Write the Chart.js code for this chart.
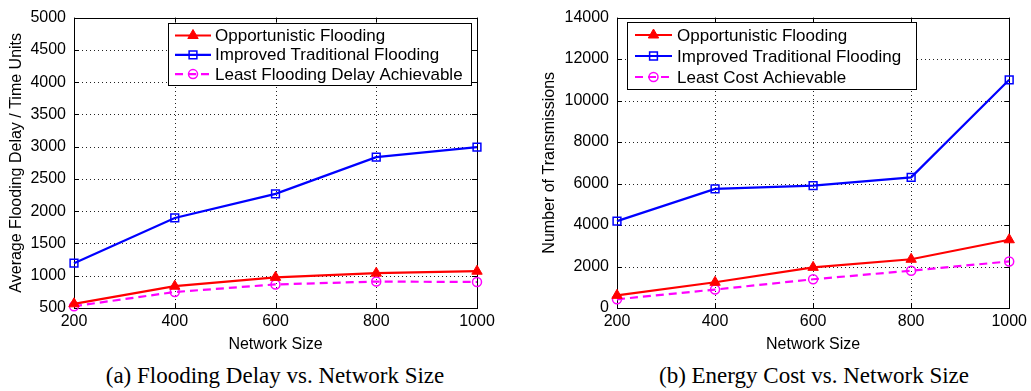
<!DOCTYPE html>
<html><head><meta charset="utf-8">
<script src="https://cdn.jsdelivr.net/npm/chart.js@4/dist/chart.umd.min.js"></script>
<style>
html,body{margin:0;padding:0;background:#fff;width:1031px;height:391px;overflow:hidden;position:relative}
.w{position:absolute;top:0}
.cap{position:absolute;top:364px;font-family:'Liberation Serif','Times New Roman',serif;font-size:23px;line-height:23px;white-space:nowrap;transform:translateX(-50%);color:#000}
</style></head><body>
<div class="w" style="left:0;width:520px;height:355px"><canvas id="c1" width="520" height="355"></canvas></div>
<div class="w" style="left:520px;width:511px;height:355px"><canvas id="c2" width="511" height="355"></canvas></div>
<div class="cap" style="left:275px">(a) Flooding Delay vs. Network Size</div>
<div class="cap" style="left:814px">(b) Energy Cost vs. Network Size</div>
<script>
// ---- data ----
const networkSizes = [200, 400, 600, 800, 1000];
const delayOpportunistic = [565, 838, 975, 1040, 1070];
const delayImproved = [1195, 1895, 2268, 2838, 2992];
const delayLeast = [528, 748, 865, 910, 903];
const costOpportunistic = [610, 1240, 1960, 2350, 3290];
const costImproved = [4190, 5740, 5900, 6296, 11000];
const costLeast = [420, 890, 1385, 1800, 2245];
const delayTicks = [500, 1000, 1500, 2000, 2500, 3000, 3500, 4000, 4500, 5000];
const costTicks = [0, 2000, 4000, 6000, 8000, 10000, 12000, 14000];
const labelsDelay = ['Opportunistic Flooding', 'Improved Traditional Flooding', 'Least Flooding Delay Achievable'];
const labelsCost = ['Opportunistic Flooding', 'Improved Traditional Flooding', 'Least Cost Achievable'];

const SANS = "'Liberation Sans', Arial, Helvetica, sans-serif";

function drawMarker(ctx, style, x, y, r, stroke, fill, lw) {
  ctx.save();
  ctx.setLineDash([]);
  ctx.lineWidth = lw; ctx.strokeStyle = stroke; ctx.fillStyle = fill;
  ctx.beginPath();
  if (style === 'triangle') {
    let rad = 0;
    ctx.moveTo(x + Math.sin(rad) * r, y - Math.cos(rad) * r);
    rad += 2 * Math.PI / 3;
    ctx.lineTo(x + Math.sin(rad) * r, y - Math.cos(rad) * r);
    rad += 2 * Math.PI / 3;
    ctx.lineTo(x + Math.sin(rad) * r, y - Math.cos(rad) * r);
    ctx.closePath();
  } else if (style === 'rect') {
    const s = Math.SQRT1_2 * r;
    ctx.rect(x - s, y - s, 2 * s, 2 * s);
  } else {
    ctx.arc(x, y, r, 0, Math.PI * 2);
  }
  ctx.fill(); ctx.stroke();
  ctx.restore();
}

const framePlugin = {
  id: 'frame',
  beforeDatasetsDraw(chart) {
    const {ctx, chartArea: a, scales} = chart;
    ctx.save();
    // dotted grid
    ctx.strokeStyle = '#222'; ctx.lineWidth = 1; ctx.setLineDash([1, 3]);
    ctx.beginPath();
    scales.x.ticks.forEach(t => {
      const px = Math.round(scales.x.getPixelForValue(t.value)) + 0.5;
      ctx.moveTo(px, a.bottom); ctx.lineTo(px, a.top);
    });
    scales.y.ticks.forEach(t => {
      const py = Math.round(scales.y.getPixelForValue(t.value)) + 0.5;
      ctx.moveTo(a.left, py); ctx.lineTo(a.right, py);
    });
    ctx.stroke();
    // inward tick marks
    ctx.setLineDash([]);
    ctx.strokeStyle = '#000';
    ctx.beginPath();
    scales.x.ticks.forEach(t => {
      const px = Math.round(scales.x.getPixelForValue(t.value)) + 0.5;
      ctx.moveTo(px, a.bottom); ctx.lineTo(px, a.bottom - 5);
      ctx.moveTo(px, a.top); ctx.lineTo(px, a.top + 5);
    });
    scales.y.ticks.forEach(t => {
      const py = Math.round(scales.y.getPixelForValue(t.value)) + 0.5;
      ctx.moveTo(a.left, py); ctx.lineTo(a.left + 5, py);
      ctx.moveTo(a.right, py); ctx.lineTo(a.right - 5, py);
    });
    ctx.stroke();
    ctx.strokeRect(Math.round(a.left) + 0.5, Math.round(a.top) + 0.5, Math.round(a.right - a.left), Math.round(a.bottom - a.top));
    ctx.restore();
  }
};

const legendPlugin = {
  id: 'matLegend',
  afterDraw(chart, args, o) {
    const {ctx, chartArea: a} = chart;
    const left = Math.round(o.anchor === 'right' ? a.right - o.right - o.width : a.left + o.left);
    const top = Math.round(a.top + o.top);
    ctx.save();
    ctx.fillStyle = '#fff'; ctx.fillRect(left, top, o.width, o.height);
    ctx.strokeStyle = '#000'; ctx.lineWidth = 1; ctx.setLineDash([]);
    ctx.strokeRect(left + 0.5, top + 0.5, o.width, o.height);
    chart.data.datasets.forEach((ds, i) => {
      const y = top + o.firstRow + i * o.rowGap;
      const x0 = left + o.lineStart, x1 = x0 + o.lineLen;
      ctx.strokeStyle = ds.borderColor; ctx.lineWidth = ds.borderWidth;
      ctx.setLineDash(ds.borderDash || []);
      ctx.beginPath(); ctx.moveTo(x0, y); ctx.lineTo(x1, y); ctx.stroke();
      ctx.setLineDash([]);
      drawMarker(ctx, ds.pointStyle, (x0 + x1) / 2, y, ds.pointRadius, ds.pointBorderColor, ds.pointBackgroundColor, ds.pointBorderWidth);
      ctx.fillStyle = '#000'; ctx.font = '17px ' + SANS; ctx.textBaseline = 'middle'; ctx.textAlign = 'left';
      ctx.fillText(ds.label, left + o.textStart, y + 1);
    });
    ctx.restore();
  }
};

function makeSets(labels, a, b, c) {
  return [
    {label: labels[0], data: networkSizes.map((x, i) => ({x, y: a[i]})), borderColor: '#ff0000', borderWidth: 2.2,
     pointStyle: 'triangle', pointRadius: 6, pointBorderColor: '#ff0000', pointBackgroundColor: '#ff0000', pointBorderWidth: 1, clip: false},
    {label: labels[1], data: networkSizes.map((x, i) => ({x, y: b[i]})), borderColor: '#0000ff', borderWidth: 2.2,
     pointStyle: 'rect', pointRadius: 5.5, pointBorderColor: '#0000ff', pointBackgroundColor: 'rgba(0,0,0,0)', pointBorderWidth: 1.5, clip: false},
    {label: labels[2], data: networkSizes.map((x, i) => ({x, y: c[i]})), borderColor: '#ff00ff', borderWidth: 2.2, borderDash: [8, 5],
     pointStyle: 'circle', pointRadius: 4.5, pointBorderColor: '#ff00ff', pointBackgroundColor: 'rgba(0,0,0,0)', pointBorderWidth: 1.5, clip: false}
  ];
}

function makeChart(id, cfg) {
  return new Chart(document.getElementById(id), {
    type: 'line',
    data: {datasets: makeSets(cfg.labels, cfg.a, cfg.b, cfg.c)},
    plugins: [framePlugin, legendPlugin],
    options: {
      responsive: false, animation: false, devicePixelRatio: 1, events: [],
      layout: {padding: {left: 0, top: 14, right: cfg.padRight, bottom: 0}},
      plugins: {legend: {display: false}, tooltip: {enabled: false}, matLegend: cfg.legend},
      scales: {
        x: {
          type: 'linear', min: networkSizes[0], max: networkSizes[networkSizes.length - 1],
          afterBuildTicks: s => { s.ticks = networkSizes.map(v => ({value: v})); },
          afterFit: s => { s.height = 355 - 308; },
          grid: {display: false, drawTicks: false},
          border: {display: false},
          ticks: {color: '#000', font: {family: SANS, size: 16}, padding: 4, maxRotation: 0, callback: v => String(v)},
          title: {display: true, text: 'Network Size', color: '#000', font: {family: SANS, size: 16}, padding: {top: 0, bottom: 1}}
        },
        y: {
          min: cfg.ticks[0], max: cfg.ticks[cfg.ticks.length - 1],
          afterBuildTicks: s => { s.ticks = cfg.ticks.map(v => ({value: v})); },
          afterFit: s => { s.width = cfg.yWidth; },
          grid: {display: false, drawTicks: false},
          border: {display: false},
          ticks: {color: '#000', font: {family: SANS, size: 16}, padding: 8, callback: v => String(v)},
          title: {display: true, text: cfg.yTitle, color: '#000', font: {family: SANS, size: 16}, padding: {top: cfg.yTitlePad, bottom: 0}}
        }
      }
    }
  });
}

makeChart('c1', {
  labels: labelsDelay, a: delayOpportunistic, b: delayImproved, c: delayLeast,
  ticks: delayTicks, padRight: 43, yWidth: 74, yTitle: 'Average Flooding Delay / Time Units', yTitlePad: 7,
  legend: {anchor: 'right', right: 6, top: 5, width: 303, height: 62, firstRow: 12.5, rowGap: 19.3, lineStart: 7, lineLen: 36, textStart: 47}
});
makeChart('c2', {
  labels: labelsCost, a: costOpportunistic, b: costImproved, c: costLeast,
  ticks: costTicks, padRight: 20, yWidth: 97, yTitle: 'Number of Transmissions', yTitlePad: 20,
  legend: {anchor: 'left', left: 10, top: 4, width: 289, height: 67, firstRow: 13, rowGap: 21, lineStart: 8, lineLen: 37, textStart: 50}
});
</script>
</body></html>
